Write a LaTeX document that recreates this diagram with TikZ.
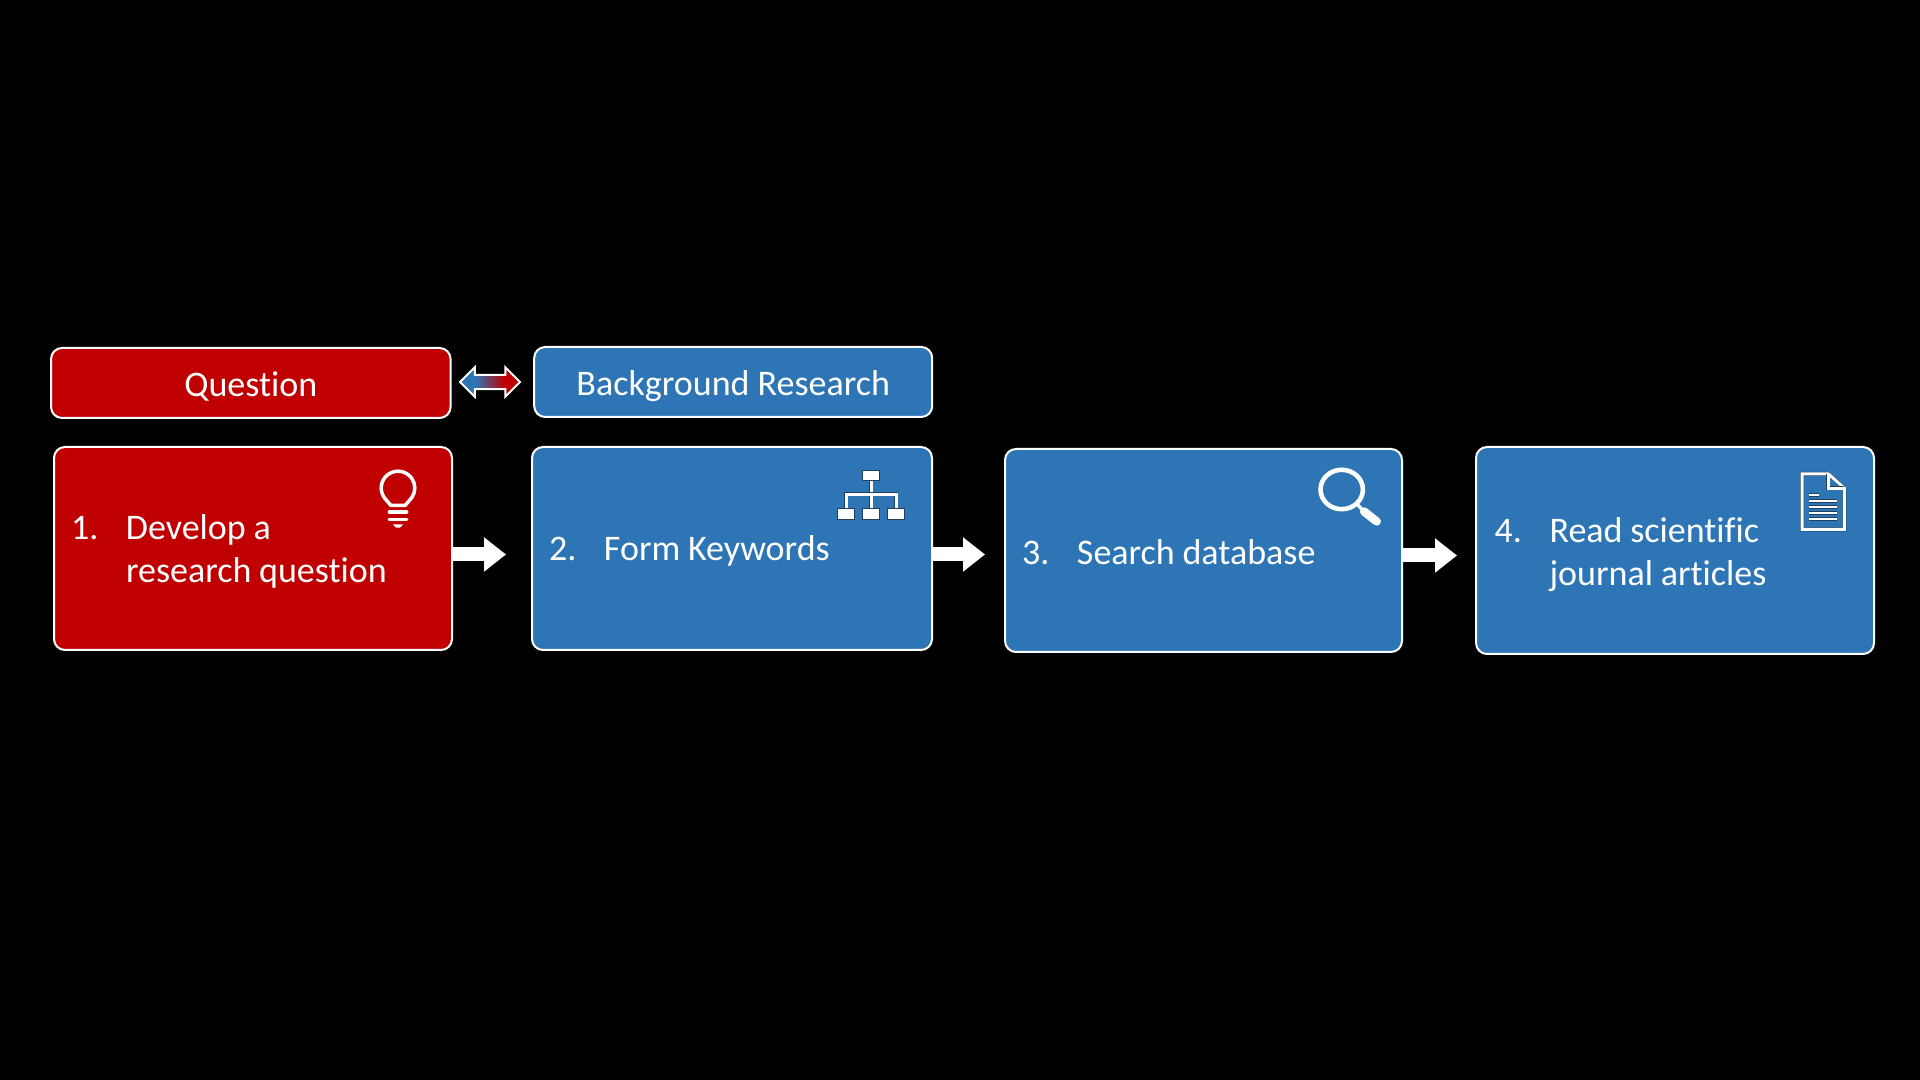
\documentclass[tikz,border=0pt]{standalone}
\usepackage{fontspec}
\setmainfont{Carlito}[Ligatures=NoCommon]
\usetikzlibrary{positioning}
\usetikzlibrary{arrows.meta}
\definecolor{stepred}{HTML}{C00000}
\definecolor{stepblue}{HTML}{2E75B6}
\definecolor{iconedge}{HTML}{1F3F5F}
\pgfdeclarehorizontalshading{bluetored}{100bp}{color(0bp)=(stepblue); color(38bp)=(stepblue); color(62bp)=(stepred); color(100bp)=(stepred)}
\tikzset{
	headbox/.style={draw=white,line width=1pt,rounded corners=5.5pt,minimum height=35pt,minimum width=199.75pt,text=white,font=\fontsize{18}{21.7}\selectfont,text height=16.2pt,text depth=3pt,outer sep=0pt},
	stepbox/.style={draw=white,line width=1pt,rounded corners=5.5pt,minimum height=101.5pt,text=white,font=\fontsize{18}{21.7}\selectfont,align=left,inner xsep=8.5pt,outer sep=0pt},
	flowarrow/.style={draw=white,line width=7pt,-{Triangle[length=11pt,width=16.5pt]}},
	iconline/.style={draw=white,line width=1.5pt,preaction={draw=iconedge,line width=2pt}},
}
\newcommand{\stepnum}[2]{\setlength{\spaceskip}{.215em}\rule[-4.5pt]{0pt}{#1}\makebox[27.5pt][l]{#2}}
\begin{document}
\begin{tikzpicture}[x=1pt,y=1pt]
	\useasboundingbox[fill=black] (0,0) rectangle (960,540);
	\node[stepbox,fill=stepred,minimum width=199pt,text width=182pt] (box1) at (126.5,265.75)
		{\stepnum{19.7pt}{1.}Develop a\\\hspace*{27.5pt}research question};
	\node[stepbox,fill=stepblue,minimum width=200pt,text width=183pt,right=40pt of box1] (box2)
		{\stepnum{21.2pt}{2.}Form Keywords};
	\node[stepbox,fill=stepblue,minimum width=198.5pt,text width=181.5pt,right=36.5pt of box2,yshift=-1pt] (box3)
		{\stepnum{22.6pt}{3.}Search database};
	\node[stepbox,fill=stepblue,minimum width=199pt,minimum height=103.5pt,inner xsep=9.3pt,text width=180.4pt,right=37pt of box3] (box4)
		{\stepnum{21.3pt}{4.}Read scientific\\\hspace*{27.5pt}journal articles};
	\node[headbox,fill=stepred,above=14.5pt of box1,xshift=-1.1pt] (head1) {Question};
	\node[headbox,fill=stepblue,minimum width=199pt,above=15pt of box2,xshift=.6pt] (head2) {Background Research};
	\coordinate[right=15.5pt of head1.east,yshift=.5pt,xshift=4.25pt] (bothways);
	\shadedraw[shading=bluetored,draw=white,line width=1pt,shift={(bothways)}] (-15,0) -- (-7.6,7.4) -- (-7.6,3.6) -- (7.6,3.6) -- (7.6,7.4) -- (15,0) -- (7.6,-7.4) -- (7.6,-3.6) -- (-7.6,-3.6) -- (-7.6,-7.4) -- cycle;
	%%%%%%%%%%
	\draw[flowarrow] ([yshift=-3pt]box1.east) -- ([yshift=-3pt,xshift=-13pt]box1.east -| box2.west);
	\draw[flowarrow] ([yshift=-3pt]box2.east) -- ([yshift=-3pt,xshift=-10pt]box2.east -| box3.west);
	\draw[flowarrow] ([yshift=-2.5pt]box3.east) -- ([yshift=-2.5pt,xshift=-9.5pt]box3.east -| box4.west);
	%%%%%%%%%%
	\begin{scope}[shift={(box1.north east)},xshift=-27pt,yshift=-20.5pt]
		\draw[draw=white,line width=1.75pt,line join=round] (-3.6,-8.7) -- (215:8.4) arc[start angle=215,end angle=-35,radius=8.4] -- (3.6,-8.7) -- cycle;
		\draw[white,line width=1.6pt,line cap=round] (-4.4,-12) -- (4.4,-12);
		\draw[white,line width=1.6pt,line cap=round] (-4.4,-15.6) -- (4.4,-15.6);
		\fill[white] (-2.6,-18.2) -- (2.6,-18.2) -- (1,-19.8) -- (-1,-19.8) -- cycle;
	\end{scope}
	\begin{scope}[shift={(box2.north east)},xshift=-30.5pt]
		\draw[iconline] (0,-17) -- (0,-31);
		\draw[iconline] (-12.5,-31) -- (-12.5,-23.6) -- (12.5,-23.6) -- (12.5,-31);
		\draw[draw=iconedge,fill=white,line width=.5pt] (-4.35,-11.85) rectangle (4.35,-17);
		\foreach \pos in {-12.5,0,12.5}
			\draw[draw=iconedge,fill=white,line width=.5pt] (\pos-4.35,-31) rectangle (\pos+4.35,-36.15);
	\end{scope}
	\begin{scope}[shift={(box3.north east)},xshift=-30.15pt,yshift=-20.25pt]
		\draw[white,line width=2.3pt] (0,0) ellipse[x radius=10.6,y radius=9.85];
		\draw[white,line width=1.6pt] (7.5,-7.2) -- (11.2,-11);
		\draw[white,line width=4.2pt,line cap=round] (11.2,-11) -- (17.5,-16);
	\end{scope}
	\begin{scope}[shift={(box4.north east)}]
		\draw[iconline,line join=miter] (-36,-13.4) -- (-22.85,-13.4) -- (-14.8,-20.65) -- (-14.8,-41.2) -- (-36,-41.2) -- cycle;
		\draw[iconline] (-22.85,-13.4) -- (-22.85,-20.65) -- (-14.8,-20.65);
		\draw[iconline,line width=1pt] (-32.35,-23.85) -- (-27.35,-23.85);
		\foreach \pos in {-26.85,-29.85,-32.85,-35.85}
			\draw[iconline,line width=1pt] (-32.35,\pos) -- (-18.35,\pos);
	\end{scope}
\end{tikzpicture}
\end{document}
